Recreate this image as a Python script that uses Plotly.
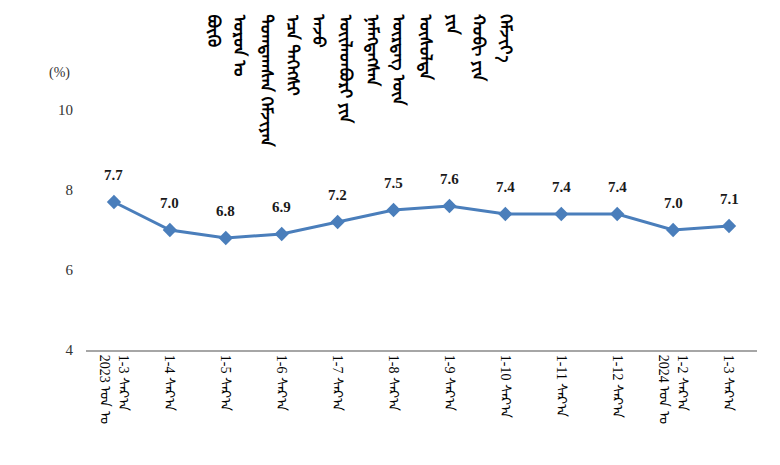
import plotly.graph_objects as go

months = ["1-3 ᠰᠠᠷ᠎ᠠ<br>2023 ᠣᠨ ᠤ", "1-4 ᠰᠠᠷ᠎ᠠ", "1-5 ᠰᠠᠷ᠎ᠠ", "1-6 ᠰᠠᠷ᠎ᠠ", "1-7 ᠰᠠᠷ᠎ᠠ",
          "1-8 ᠰᠠᠷ᠎ᠠ", "1-9 ᠰᠠᠷ᠎ᠠ", "1-10 ᠰᠠᠷ᠎ᠠ", "1-11 ᠰᠠᠷ᠎ᠠ", "1-12 ᠰᠠᠷ᠎ᠠ",
          "1-2 ᠰᠠᠷ᠎ᠠ<br>2024 ᠣᠨ ᠤ", "1-3 ᠰᠠᠷ᠎ᠠ"]
growth = [7.7, 7.0, 6.8, 6.9, 7.2, 7.5, 7.6, 7.4, 7.4, 7.4, 7.0, 7.1]
y_ticks = [4, 6, 8, 10]
title_words = ["ᠪᠦᠬᠦ", "ᠣᠷᠤᠨ ᠤ", "ᠲᠣᠭᠲᠠᠭᠰᠠᠨ ᠬᠡᠮᠵᠢᠶᠡᠨ", "ᠡᠴᠡ ᠳᠡᠭᠡᠭᠰᠢ", "ᠠᠵᠤ",
               "ᠦᠢᠯᠡᠳᠪᠦᠷᠢ ᠶᠢᠨ", "ᠨᠡᠮᠡᠭᠳᠡᠭᠰᠡᠨ", "ᠥᠷᠲᠡᠭ ᠦᠨ", "ᠥᠰᠥᠯᠲᠡ", "ᠶᠢᠨ", "ᠬᠤᠪᠢ ᠶᠢᠨ", "ᠬᠡᠮᠵᠢᠶ᠎ᠡ"]

serif = "Liberation Serif, Times New Roman, serif"
blue = "#4A7EBB"

W, H = 780, 465
ML, MR, MT, MB = 78, 31, 102, 123
PW, PH = W - ML - MR, H - MT - MB


def px(fx):
    return (fx - ML) / PW


def py(fy):
    return (H - MB - fy) / PH


fig = go.Figure()
fig.add_trace(go.Scatter(
    x=list(range(len(months))), y=growth, mode="lines+markers",
    line=dict(color=blue, width=3),
    marker=dict(symbol="diamond", size=11, color=blue),
    hoverinfo="skip", showlegend=False,
))

annotations = []
for i, v in enumerate(growth):
    annotations.append(dict(x=i, y=v, xref="x", yref="y", text="<b>%.1f</b>" % v,
                            showarrow=False, yshift=27,
                            font=dict(family=serif, size=15, color="#1a1a1a")))

annotations.append(dict(x=px(51), y=py(65), xref="paper", yref="paper", text="(%)", showarrow=False,
                        xanchor="center", yanchor="middle",
                        font=dict(family=serif, size=14, color="#333333")))

x0 = 209
step = 26.6
for k, w in enumerate(title_words):
    annotations.append(dict(x=px(x0 + k * step), y=py(4), xref="paper", yref="paper",
                            text="<b>" + w + "</b>", textangle=90, showarrow=False,
                            xanchor="center", yanchor="top",
                            font=dict(family="Noto Sans Mongolian, Noto Sans, sans-serif",
                                      size=17, color="#000000")))

fig.update_layout(
    width=W, height=H,
    margin=dict(l=ML, r=MR, t=MT, b=MB),
    paper_bgcolor="white", plot_bgcolor="white",
    annotations=annotations,
    xaxis=dict(
        tickmode="array", tickvals=list(range(len(months))), ticktext=months,
        range=[-0.5, len(months) - 0.5], tickangle=90,
        showgrid=False, zeroline=False, showline=True, linecolor="#A6A6A6", linewidth=2,
        ticks="", tickfont=dict(family=serif, size=14, color="#000000"),
    ),
    yaxis=dict(
        range=[4, 10], tickvals=y_ticks, showgrid=False, zeroline=False, showline=False,
        ticks="", ticklabelstandoff=12,
        tickfont=dict(family=serif, size=15, color="#333333"),
    ),
)

fig.write_html("out.html")
